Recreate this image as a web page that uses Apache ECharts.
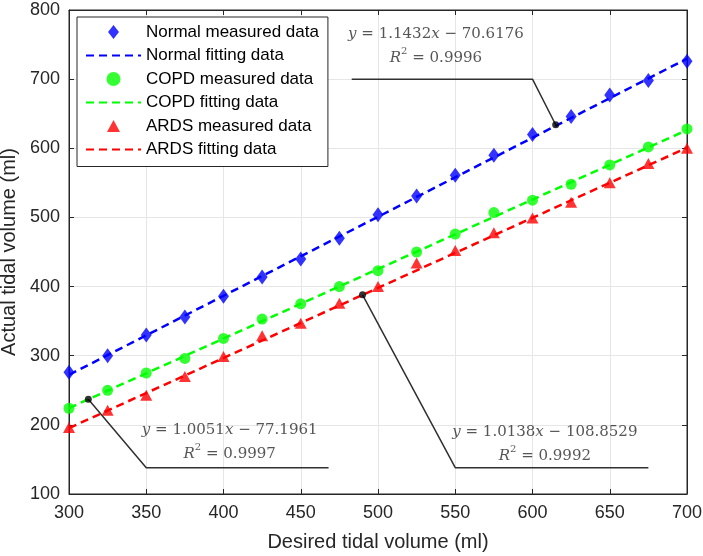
<!DOCTYPE html>
<html><head><meta charset="utf-8">
<script src="https://cdn.jsdelivr.net/npm/echarts@6/dist/echarts.min.js"></script>
<style>html,body{margin:0;padding:0;background:#fff}#c{width:703px;height:556px}</style>
</head><body><div id="c"></div>
<script>
// ---- data ----
const desiredVolume = [300,325,350,375,400,425,450,475,500,525,550,575,600,625,650,675,700];
const normalMeasured = [276,300,330,356,386,414,440,470,504,531,561,590,620,646,677,698,726];
const copdMeasured   = [224,250,275,296,325,353,375,400,423,450,476,507,525,548,576,602,628];
const ardsMeasured   = [196,221,243,270,299,329,347,376,400,434,452,478,499,522,550,578,600];
// fitted lines, end points (x = 300, 700)
const fitX = [300, 700];
const normalFit = [272.3, 729.6];
const copdFit   = [224.3, 626.4];
const ardsFit   = [195.3, 600.8];
// annotation leader lines (data coordinates) and text anchors
const normalLeader = [[483,700],[600,700],[615,634]];
const copdLeader   = [[468,138],[350,138],[312.5,237]];
const ardsLeader   = [[675,138],[550,138],[490,388]];
const normalNote = {pos:[537.5,748], eq:['1.1432','70.6176'], r2:'0.9996'};
const copdNote   = {pos:[404,175], eq:['1.0051','77.1961'], r2:'0.9997'};
const ardsNote   = {pos:[608,172], eq:['1.0138','108.8529'], r2:'0.9992'};
const xTicks = {min:300, max:700, interval:50};
const yTicks = {min:100, max:800, interval:100};

const pair = (xs, ys) => xs.map((x,i)=>[x, ys[i]]);
const BLUE='#0000ff', GREEN='#00ff00', RED='#ff0000', INK='#262626';
const sans = 'Liberation Sans, Arial, sans-serif';
const serif = 'DejaVu Serif, serif';
const NOTE='#2a2a2a';
// legend icons drawn inside a 55x14 frame so they keep their shape
const ICON_DIAMOND = 'path://M0,0M55,14M27.5,0L33,7L27.5,14L22,7Z';
const ICON_TRIANGLE = 'path://M0,0M55,14M27.5,1L34,13L21,13Z';

function measured(name, ys, symbol, size, color){
  return {name, type:'scatter', data:pair(desiredVolume, ys), symbol, symbolSize:size, symbolKeepAspect:true,
    itemStyle:{color}, z:4, silent:true};
}
function fit(name, ys, color){
  return {name, type:'line', data:pair(fitX, ys), symbol:'none', showSymbol:false,
    lineStyle:{color, width:2.5, type:[8,5]}, itemStyle:{color}, z:3, silent:true};
}
function leader(pts){
  return [{type:'line', data:pts, symbol:'none', lineStyle:{color:'#303030', width:1.5}, z:5, silent:true},
          {type:'scatter', data:[pts[2]], symbol:'circle', symbolSize:7, itemStyle:{color:'#000'}, z:6, silent:true}];
}
function note(n){
  return {type:'scatter', data:[n.pos], symbol:'circle', symbolSize:1, itemStyle:{color:'rgba(0,0,0,0)'}, z:7, silent:true,
    label:{show:true, position:'inside', align:'center', verticalAlign:'middle',
      formatter:'{i|y} = ' + n.eq[0] + '{i|x} \u2212 ' + n.eq[1] + '\n{i|R}{s|2} = ' + n.r2,
      fontFamily:serif, fontSize:15, color:NOTE, lineHeight:24,
      rich:{i:{fontStyle:'italic', fontFamily:serif, fontSize:15, color:NOTE, lineHeight:24},
            s:{fontFamily:serif, fontSize:10, color:NOTE, lineHeight:18, verticalAlign:'top'}}}};
}

const chart = echarts.init(document.getElementById('c'));
chart.setOption({
  animation:false,
  backgroundColor:'#fff',
  grid:{left:69, right:16, top:10, bottom:62, outerBoundsMode:'none', containLabel:false,
        show:true, borderColor:INK, borderWidth:1, backgroundColor:'transparent'},
  legend:{
    orient:'vertical', left:77, top:17, padding:[6,9,8,8], itemGap:5.5,
    itemWidth:55, itemHeight:14, symbolKeepAspect:true, backgroundColor:'#fff', borderColor:INK, borderWidth:1,
    textStyle:{fontFamily:sans, fontSize:17, color:'#000', lineHeight:18},
    selectedMode:false,
    data:[
      {name:'Normal measured data', icon:ICON_DIAMOND},
      {name:'Normal fitting data', itemStyle:{opacity:0}},
      {name:'COPD measured data', icon:'circle'},
      {name:'COPD fitting data', itemStyle:{opacity:0}},
      {name:'ARDS measured data', icon:ICON_TRIANGLE},
      {name:'ARDS fitting data', itemStyle:{opacity:0}}]
  },
  xAxis:[{type:'value', min:xTicks.min, max:xTicks.max, interval:xTicks.interval,
    name:'Desired tidal volume (ml)', nameLocation:'middle', nameGap:38,
    nameTextStyle:{fontFamily:sans, fontSize:20, color:INK},
    axisLine:{show:true, lineStyle:{color:INK}}, axisTick:{show:true, inside:true, length:5, lineStyle:{color:INK}},
    axisLabel:{fontFamily:sans, fontSize:18, color:INK, margin:10},
    splitLine:{show:true, lineStyle:{color:'#e6e6e6', width:1}}},
   {type:'value', position:'top', min:xTicks.min, max:xTicks.max, interval:xTicks.interval,
    axisLine:{show:true, lineStyle:{color:INK}}, axisTick:{show:true, inside:true, length:5, lineStyle:{color:INK}},
    axisLabel:{show:false}, splitLine:{show:false}}],
  yAxis:[{type:'value', min:yTicks.min, max:yTicks.max, interval:yTicks.interval,
    name:'Actual tidal volume (ml)', nameLocation:'middle', nameGap:44,
    nameTextStyle:{fontFamily:sans, fontSize:20, color:INK},
    axisLine:{show:true, lineStyle:{color:INK}}, axisTick:{show:true, inside:true, length:5, lineStyle:{color:INK}},
    axisLabel:{fontFamily:sans, fontSize:18, color:INK, margin:9},
    splitLine:{show:true, lineStyle:{color:'#e6e6e6', width:1}}},
   {type:'value', position:'right', min:yTicks.min, max:yTicks.max, interval:yTicks.interval,
    axisLine:{show:true, lineStyle:{color:INK}}, axisTick:{show:true, inside:true, length:5, lineStyle:{color:INK}},
    axisLabel:{show:false}, splitLine:{show:false}}],
  series:[
    measured('Normal measured data', normalMeasured, 'diamond', [11,15], BLUE),
    fit('Normal fitting data', normalFit, BLUE),
    measured('COPD measured data', copdMeasured, 'circle', 11, GREEN),
    fit('COPD fitting data', copdFit, GREEN),
    measured('ARDS measured data', ardsMeasured, 'triangle', [12,11], RED),
    fit('ARDS fitting data', ardsFit, RED),
    ...leader(normalLeader), ...leader(copdLeader), ...leader(ardsLeader),
    note(normalNote), note(copdNote), note(ardsNote)
  ]
});
</script>
</body></html>
